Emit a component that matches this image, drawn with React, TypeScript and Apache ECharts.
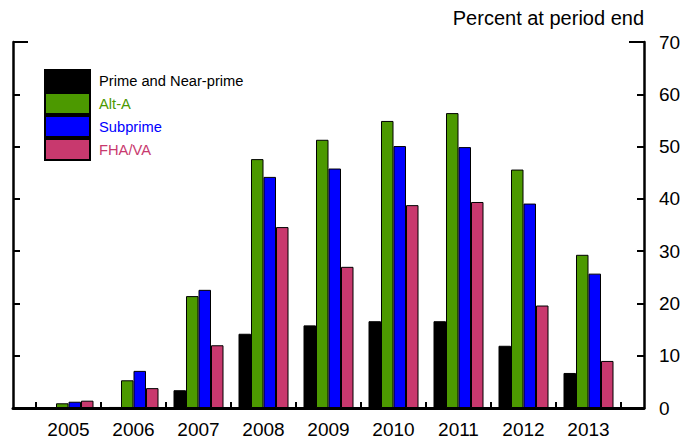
import React, { useEffect, useRef } from "react";
import * as echarts from "echarts";

const categories = ["2005", "2006", "2007", "2008", "2009", "2010", "2011", "2012", "2013"];
const primeNearPrime = [0, 0.2, 3.4, 14.2, 15.8, 16.6, 16.6, 11.9, 6.7];
const altA = [0.9, 5.3, 21.4, 47.6, 51.3, 54.9, 56.4, 45.6, 29.3];
const subprime = [1.2, 7.1, 22.6, 44.2, 45.8, 50.1, 49.9, 39.1, 25.7];
const fhaVa = [1.4, 3.8, 12.0, 34.6, 27.0, 38.8, 39.4, 19.6, 9.0];
const seriesNames = ["Prime and Near-prime", "Alt-A", "Subprime", "FHA/VA"];
const seriesColors = ["#000000", "#4c9900", "#0000ff", "#c8396e"];
const unitLabel = "Percent at period end";

const FONT = "Liberation Sans, Arial, Helvetica, sans-serif";

export default function App() {
  const ref = useRef<HTMLDivElement>(null);
  useEffect(() => {
    if (!ref.current) return;
    const chart = echarts.init(ref.current, null, { renderer: "svg" });
    const seriesData = [primeNearPrime, altA, subprime, fhaVa];
    const axisLineStyle = { color: "#000", width: 2.5 };
    const yBase = {
      type: "value",
      gridIndex: 0,
      min: 0,
      max: 70,
      splitLine: { show: false },
    };
    chart.setOption({
      animation: false,
      textStyle: { fontFamily: FONT },
      title: {
        text: unitLabel,
        right: 56,
        top: 8,
        padding: 0,
        textStyle: { fontSize: 20, fontWeight: "normal", color: "#000", fontFamily: FONT },
      },
      legend: {
        orient: "vertical",
        left: 44,
        top: 69,
        padding: 0,
        itemWidth: 45,
        itemHeight: 21,
        itemGap: 0,
        icon: "rect",
        textStyle: { fontSize: 14.7, fontFamily: FONT, padding: [0, 0, 0, 4] },
        data: seriesNames.map((n, i) => ({
          name: n,
          textStyle: { color: seriesColors[i] },
        })),
      },
      grid: [
        { left: 13, right: 56, top: 42, bottom: 35 },
        { left: 36, right: 79, top: 42, bottom: 35 },
      ],
      xAxis: [
        {
          type: "value",
          gridIndex: 0,
          min: 0,
          max: 1,
          axisLine: { show: true, lineStyle: { color: "#000", width: 3 } },
          axisTick: { show: false },
          axisLabel: { show: false },
          splitLine: { show: false },
        },
        {
          type: "category",
          gridIndex: 1,
          data: categories,
          axisLine: { show: false },
          axisTick: { show: true, inside: true, length: 6, lineStyle: { color: "#000", width: 2 } },
          axisLabel: { fontSize: 19, color: "#000", margin: 12, fontFamily: FONT },
          splitLine: { show: false },
        },
      ],
      yAxis: [
        {
          ...yBase,
          position: "left",
          interval: 10,
          axisLine: { show: true, lineStyle: axisLineStyle },
          axisTick: { show: true, inside: true, length: 7, lineStyle: { color: "#000", width: 2 } },
          axisLabel: { show: false },
        },
        {
          ...yBase,
          position: "left",
          interval: 70,
          axisLine: { show: false },
          axisTick: { show: true, inside: true, length: 15, lineStyle: { color: "#000", width: 2 } },
          axisLabel: { show: false },
        },
        {
          ...yBase,
          position: "right",
          interval: 10,
          axisLine: { show: true, lineStyle: axisLineStyle },
          axisTick: { show: true, inside: true, length: 7, lineStyle: { color: "#000", width: 2 } },
          axisLabel: { show: true, fontSize: 19, color: "#000", margin: 15, fontFamily: FONT },
        },
        {
          ...yBase,
          position: "right",
          interval: 70,
          axisLine: { show: false },
          axisTick: { show: true, inside: true, length: 15, lineStyle: { color: "#000", width: 2 } },
          axisLabel: { show: false },
        },
        {
          type: "value",
          gridIndex: 1,
          min: 0,
          max: 70,
          show: false,
          splitLine: { show: false },
        },
      ],
      series: seriesNames.map((n, i) => ({
        name: n,
        type: "bar",
        xAxisIndex: 1,
        yAxisIndex: 4,
        data: seriesData[i],
        barWidth: 12.5,
        barGap: "0%",
        itemStyle: { color: seriesColors[i], borderColor: "#000", borderWidth: 1 },
      })),
    });
    return () => chart.dispose();
  }, []);
  return (
    <div
      ref={ref}
      style={{ position: "fixed", left: 0, top: 0, width: 700, height: 443, background: "#fff" }}
    />
  );
}
